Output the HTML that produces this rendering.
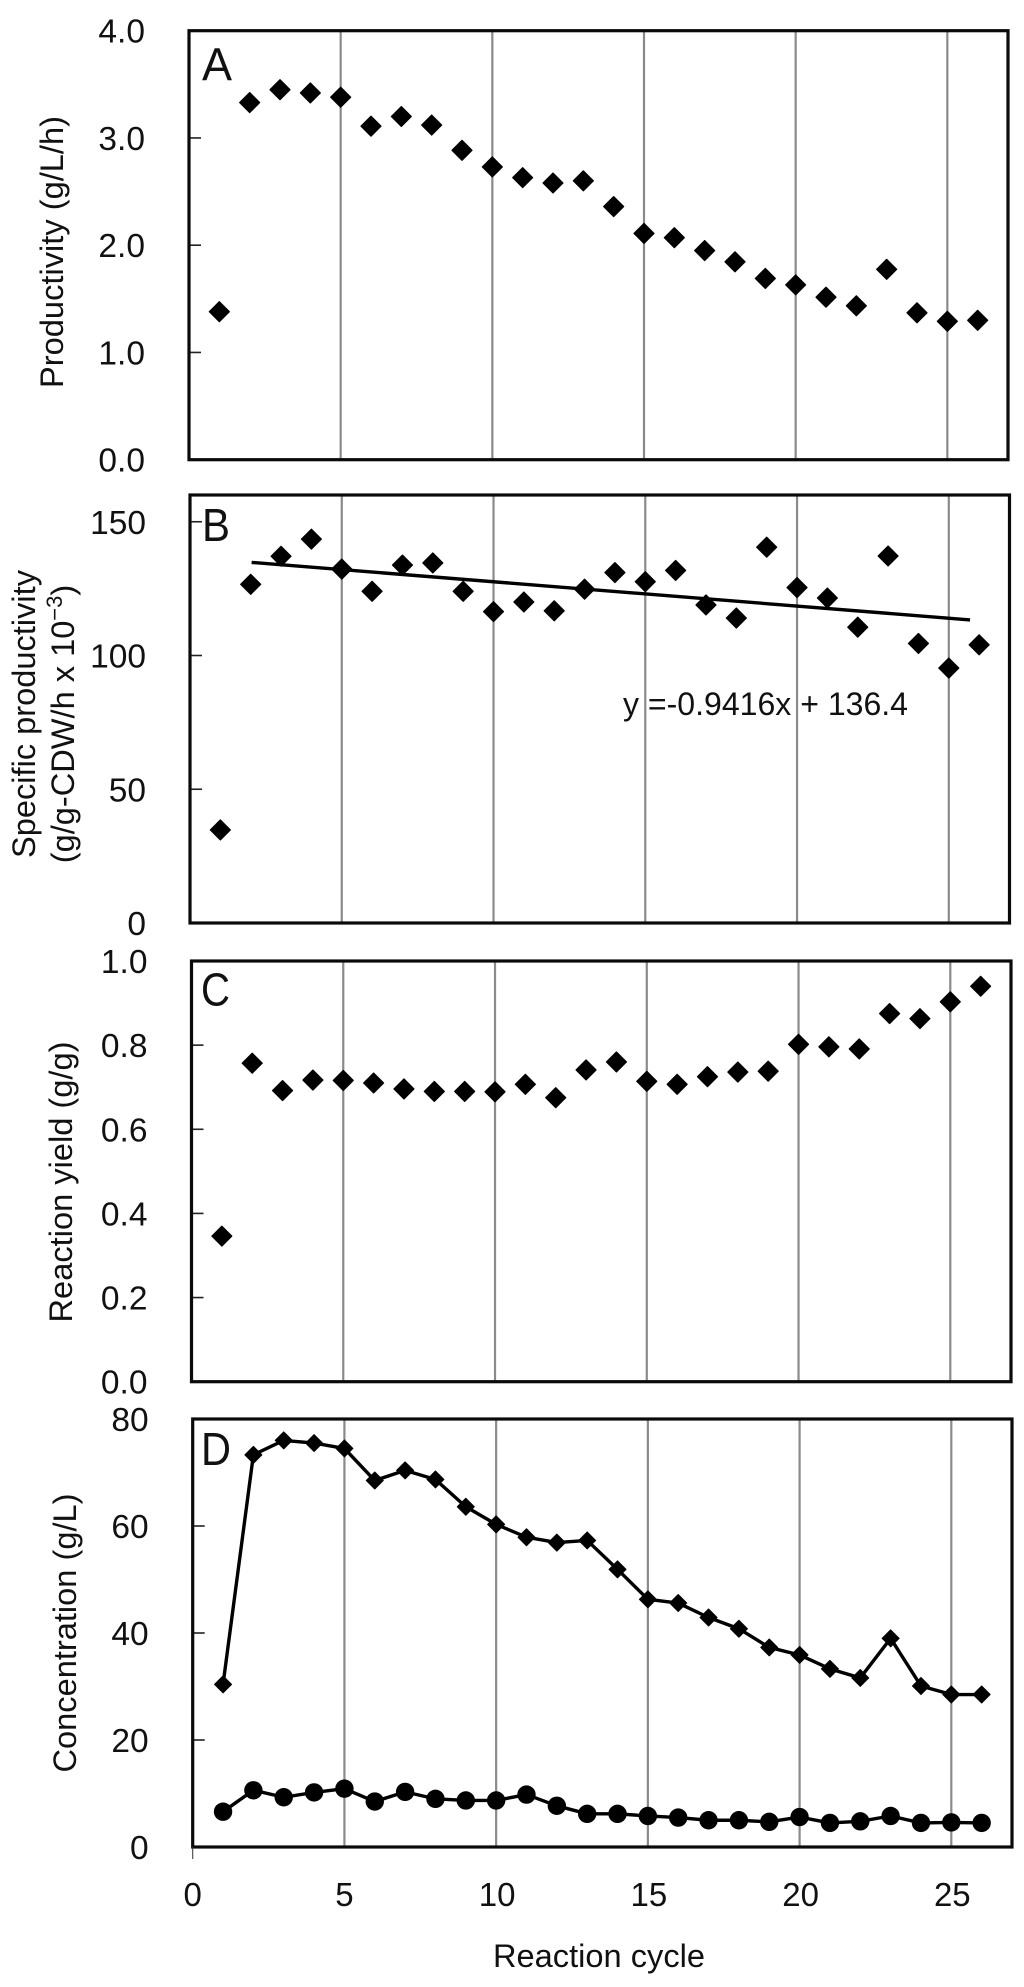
<!DOCTYPE html>
<html lang="en">
<head>
<meta charset="utf-8">
<title>Reaction cycle performance</title>
<style>
  html, body { margin: 0; padding: 0; background: #fff; }
  svg { display: block; }
  text { font-family: "Liberation Sans", Arial, sans-serif; fill: #111; }
</style>
</head>
<body>
<svg id="chart" xmlns="http://www.w3.org/2000/svg" width="1024" height="1987" viewBox="0 0 1024 1987"></svg>
<script>
const cycles = [1,2,3,4,5,6,7,8,9,10,11,12,13,14,15,16,17,18,19,20,21,22,23,24,25,26];
const productivity = [1.38,3.33,3.45,3.42,3.38,3.11,3.20,3.12,2.885,2.73,2.63,2.58,2.60,2.36,2.11,2.07,1.95,1.845,1.69,1.63,1.515,1.435,1.775,1.37,1.29,1.30];
const specificProductivity = [34.8,126.6,137.1,143.5,132.3,124,133.8,134.6,124,116.4,120,116.7,124.8,131,127.6,131.8,118.9,114,140.5,125.4,121.5,110.6,137.2,104.5,95.3,104];
const reactionYield = [0.346,0.757,0.692,0.717,0.716,0.71,0.696,0.69,0.69,0.689,0.707,0.675,0.741,0.76,0.714,0.707,0.725,0.736,0.738,0.802,0.796,0.791,0.875,0.863,0.903,0.94];
const concentrationDiamond = [30.4,73.3,76,75.5,74.5,68.5,70.4,68.7,63.6,60.3,57.9,56.9,57.3,51.9,46.3,45.6,42.9,40.8,37.3,35.9,33.3,31.6,39,30.1,28.5,28.5];
const concentrationCircle = [6.6,10.6,9.3,10.2,10.9,8.5,10.3,9,8.7,8.7,9.8,7.7,6.2,6.2,5.8,5.5,5,5,4.7,5.6,4.5,4.8,5.8,4.5,4.6,4.5];
const trendCycles = [2.03,25.7];
const trendValues = [134.8,113.3];
const gridCycles = [5,10,15,20,25];
const xTickValues = [0,5,10,15,20,25];
const xTickLabels = ["0","5","10","15","20","25"];
const ticksA = [0,1,2,3,4];
const tickLabelsA = ["0.0","1.0","2.0","3.0","4.0"];
const ticksB = [0,50,100,150];
const tickLabelsB = ["0","50","100","150"];
const ticksC = [0,0.2,0.4,0.6,0.8,1];
const tickLabelsC = ["0.0","0.2","0.4","0.6","0.8","1.0"];
const ticksD = [0,20,40,60,80];
const tickLabelsD = ["0","20","40","60","80"];

const NS = "http://www.w3.org/2000/svg";
const svg = document.getElementById("chart");
const X_MAX = 27;

function make(tag, attrs, parent) {
  const el = document.createElementNS(NS, tag);
  for (const k in attrs) el.setAttribute(k, attrs[k]);
  parent.appendChild(el);
  return el;
}

function scales(p) {
  return {
    x: v => p.left + (v / X_MAX) * (p.right - p.left),
    y: v => p.bottom - (v / p.yMax) * (p.bottom - p.top)
  };
}

function drawFrame(p, name, ticks, labels) {
  const s = scales(p);
  const g = make("g", {}, svg);
  
  
  gridCycles.forEach(c => {
    const line = make("line", {x1: s.x(c), x2: s.x(c), y1: p.top, y2: p.bottom, stroke: "#8a8a8a", "stroke-width": 2.2}, g);
    
    
  });
  ticks.forEach((t, i) => {
    const y = s.y(t);
    if (t !== 0 && t !== p.yMax) {
      const tick = make("line", {x1: p.left, x2: p.left + 12, y1: y, y2: y, stroke: "#222", "stroke-width": 1.6}, g);
      
      
    }
    const lab = make("text", {x: p.left - 44, y: y + 12, "text-anchor": "end", "font-size": 33.5}, g);
    lab.textContent = labels[i];
    
    
  });
  return g;
}

function drawBorder(p, g) {
  const r = make("rect", {x: p.left, y: p.top, width: p.right - p.left, height: p.bottom - p.top, fill: "none", stroke: "#0a0a0a", "stroke-width": 3.2}, g);
  
  
}

function drawLetter(g, text, x, y, len) {
  const t = make("text", {x: x, y: y, "font-size": 46, textLength: len, lengthAdjust: "spacingAndGlyphs"}, g);
  t.textContent = text;
  
  
}

function drawYTitle(g, text, x, y, len) {
  const t = make("text", {transform: "translate(" + x + "," + y + ") rotate(-90)", "text-anchor": "middle", "font-size": 32, textLength: len, lengthAdjust: "spacingAndGlyphs"}, g);
  t.textContent = text;
  
  
}

function drawDiamonds(p, g, values, half, stroke) {
  const s = scales(p);
  values.forEach((v, i) => {
    const cx = s.x(cycles[i]), cy = s.y(v);
    const pts = [[cx, cy - half], [cx + half, cy], [cx, cy + half], [cx - half, cy]].map(a => a.join(",")).join(" ");
    const d = make("polygon", {points: pts, fill: "#000", stroke: "#000", "stroke-width": stroke, "stroke-linejoin": "round"}, g);
    
    
  });
}

function drawCircles(p, g, values, r) {
  const s = scales(p);
  values.forEach((v, i) => {
    const c = make("circle", {cx: s.x(cycles[i]), cy: s.y(v), r: r, fill: "#000"}, g);
    
    
  });
}

function drawLine(p, g, xs, values, name) {
  const s = scales(p);
  const pts = values.map((v, i) => s.x(xs[i]) + "," + s.y(v)).join(" ");
  const l = make("polyline", {points: pts, fill: "none", stroke: "#000", "stroke-width": 3.4, "stroke-linejoin": "round"}, g);
  
  
}

/* Panel A */
const panelA = {left: 189, right: 1008, top: 30.7, bottom: 459.7, yMax: 4};
const gA = drawFrame(panelA, "panel-a-productivity", ticksA, tickLabelsA);
drawDiamonds(panelA, gA, productivity, 10, 1.2);
drawBorder(panelA, gA);
drawLetter(gA, "A", 202, 80.7, 30);
drawYTitle(gA, "Productivity (g/L/h)", 63, 252, 272);

/* Panel B */
const panelB = {left: 190, right: 1009.5, top: 495, bottom: 923, yMax: 160};
const gB = drawFrame(panelB, "panel-b-specific-productivity", ticksB, tickLabelsB);
drawLine(panelB, gB, trendCycles, trendValues, "trend-line");
drawDiamonds(panelB, gB, specificProductivity, 10, 1.2);
drawBorder(panelB, gB);
drawLetter(gB, "B", 202, 541, 28);
drawYTitle(gB, "Specific productivity", 35, 714, 288);
const titleB2 = make("text", {transform: "translate(74,724) rotate(-90)", "text-anchor": "middle", "font-size": 32.6}, gB);


const b2a = make("tspan", {}, titleB2);
b2a.textContent = "(g/g-CDW/h x 10";
const b2b = make("tspan", {dy: -12, "font-size": 22}, titleB2);
b2b.textContent = "\u22123";
const b2c = make("tspan", {dy: 12}, titleB2);
b2c.textContent = ")";
const eq = make("text", {x: 623, y: 715, "font-size": 32, textLength: 285, lengthAdjust: "spacingAndGlyphs"}, gB);
eq.textContent = "y =-0.9416x + 136.4";



/* Panel C */
const panelC = {left: 191.5, right: 1011, top: 961, bottom: 1381.7, yMax: 1};
const gC = drawFrame(panelC, "panel-c-reaction-yield", ticksC, tickLabelsC);
drawDiamonds(panelC, gC, reactionYield, 10, 1.2);
drawBorder(panelC, gC);
drawLetter(gC, "C", 201, 1005.7, 29);
drawYTitle(gC, "Reaction yield (g/g)", 72, 1182, 281);

/* Panel D */
const panelD = {left: 192.7, right: 1012, top: 1419, bottom: 1847, yMax: 80};
const gD = drawFrame(panelD, "panel-d-concentration", ticksD, tickLabelsD);
drawLine(panelD, gD, cycles, concentrationDiamond, "concentration-diamond-line");
drawLine(panelD, gD, cycles, concentrationCircle, "concentration-circle-line");
drawDiamonds(panelD, gD, concentrationDiamond, 8.5, 1);
drawCircles(panelD, gD, concentrationCircle, 9.2);
drawBorder(panelD, gD);
drawLetter(gD, "D", 201, 1465, 30);
drawYTitle(gD, "Concentration (g/L)", 76, 1633, 279);

/* Shared x axis */
const sD = scales(panelD);
const xAxis = make("g", {}, svg);


const x0tick = make("line", {x1: sD.x(0), x2: sD.x(0), y1: 1847, y2: 1859, stroke: "#333", "stroke-width": 1}, xAxis);


xTickValues.forEach((v, i) => {
  const t = make("text", {x: sD.x(v) + (v >= 10 ? 1 : 0), y: 1906, "text-anchor": "middle", "font-size": 33}, xAxis);
  t.textContent = xTickLabels[i];
  
  
});
const xTitle = make("text", {x: 599, y: 1967, "text-anchor": "middle", "font-size": 32, textLength: 212, lengthAdjust: "spacingAndGlyphs"}, xAxis);
xTitle.textContent = "Reaction cycle";


</script>
</body>
</html>
